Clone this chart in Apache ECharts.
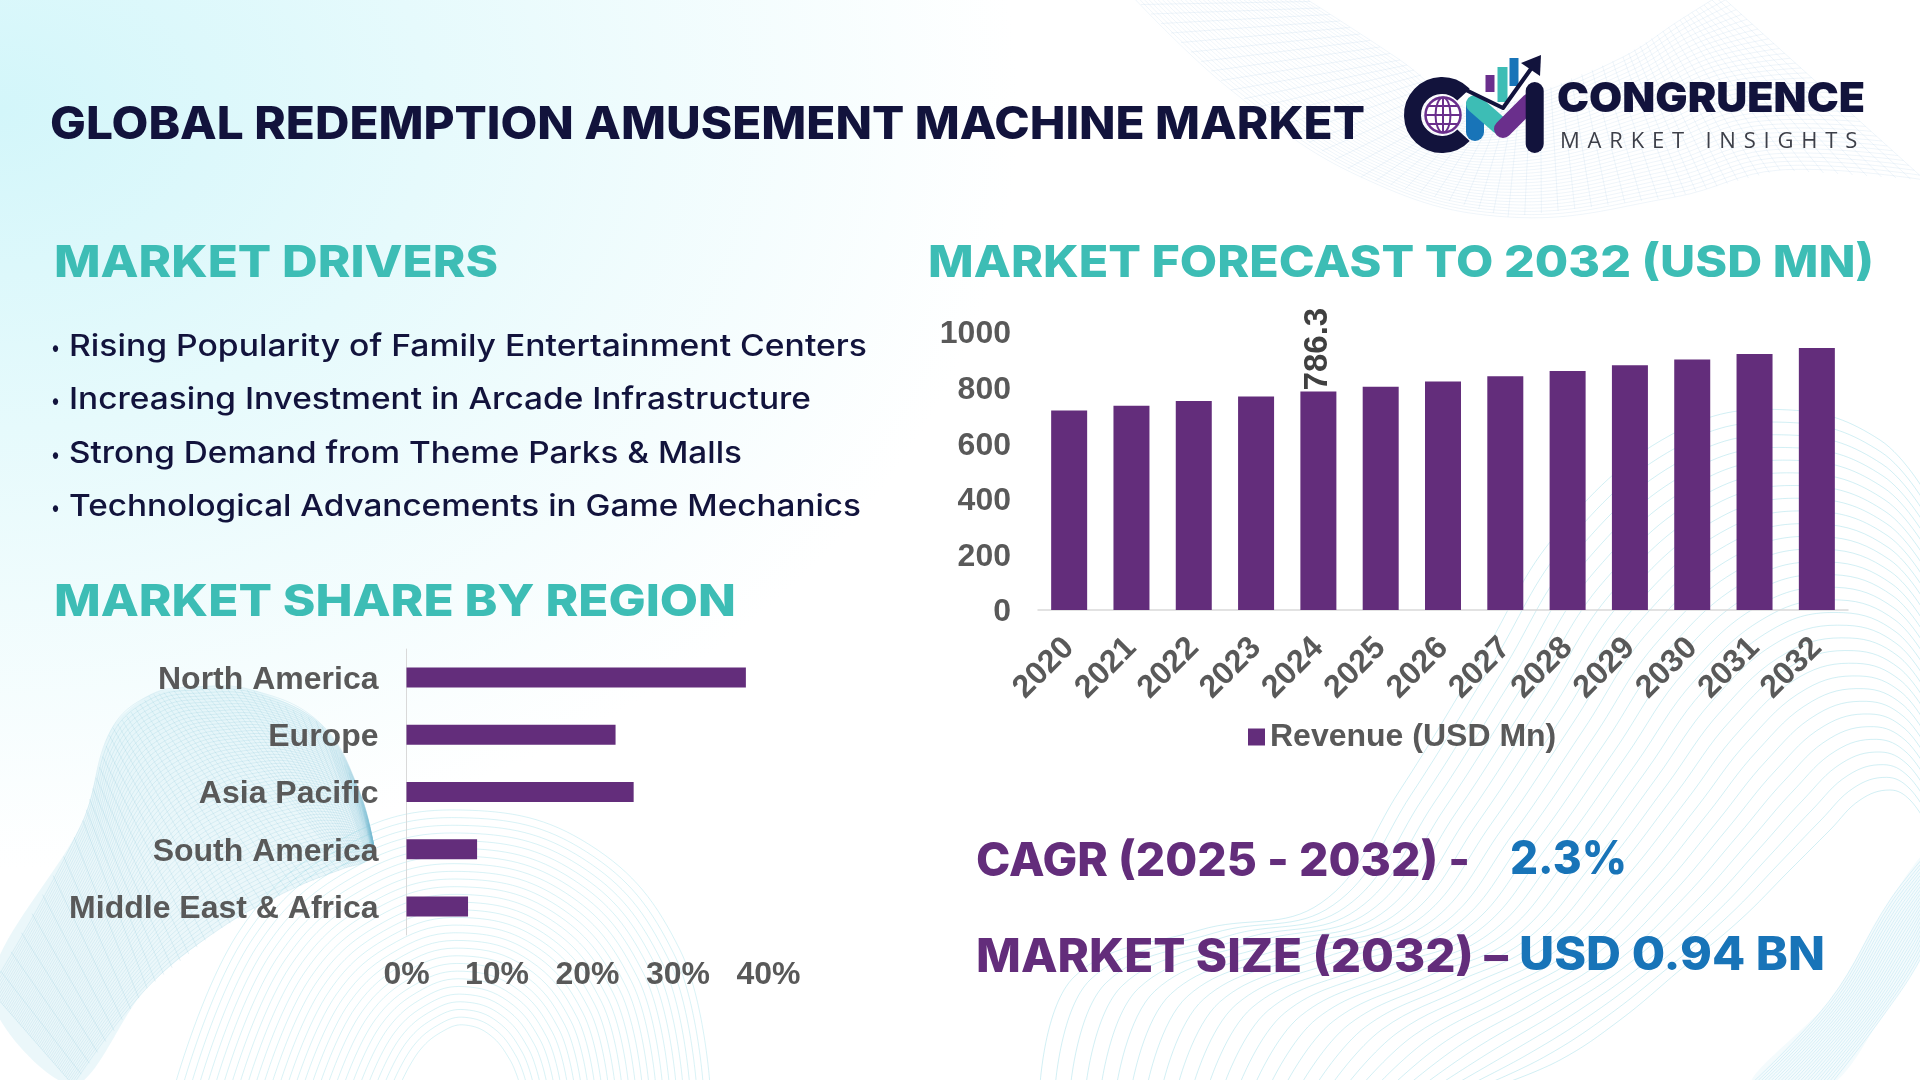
<!DOCTYPE html>
<html>
<head>
    <meta charset="utf-8">
    <title>Global Redemption Amusement Machine Market</title>
    <style>
        html, body { margin: 0; padding: 0; width: 1920px; height: 1080px; overflow: hidden; background: #fff; }
        #bg {
            position: absolute; left: 0; top: 0; width: 1920px; height: 1080px;
            background:
                radial-gradient(ellipse 1020px 760px at 0 110px, #d3f6fa 0%, #e6fafc 42%, rgba(255,255,255,0) 100%),
                #fff;
        }
        #main { position: absolute; left: 0; top: 0; width: 1920px; height: 1080px; }
        #tagline {
            position: absolute; left: 1560px; top: 125px; line-height: 28px;
            font-family: "Open Sans", sans-serif; font-size: 22px; letter-spacing: 7.8px;
            color: #3d3f48; white-space: nowrap;
        }
    </style>
</head>
<body>
<div id="bg"></div>
<div id="main"></div>
<div id="tagline">MARKET INSIGHTS</div>
<script src="https://cdn.jsdelivr.net/npm/echarts@6/dist/echarts.min.js"></script>
<script>
    // chart data
    var years = ['2020', '2021', '2022', '2023', '2024', '2025', '2026', '2027', '2028', '2029', '2030', '2031', '2032'];
    var revenue = [718, 735, 752, 768, 786.3, 803, 822, 841, 860, 880, 901, 921, 942];
    var labelledYear = '2024';
    var regions = ['North America', 'Europe', 'Asia Pacific', 'South America', 'Middle East & Africa'];
    var regionShare = [37.5, 23.1, 25.1, 7.8, 6.8];
    var drivers = [
        'Rising Popularity of Family Entertainment Centers',
        'Increasing Investment in Arcade Infrastructure',
        'Strong Demand from Theme Parks & Malls',
        'Technological Advancements in Game Mechanics'
    ];

    var PURPLE = '#632d7b', TEAL = '#3dbdb5', NAVY = '#12133c', BLUE = '#1874b8', GREY = '#595959';

    var measure = document.createElement('canvas').getContext('2d');
    var graphics = [];

    // text stretched to the width it has in the picture
    function addText(str, x, y, w, size, weight, color, family) {
        var font = weight + ' ' + size + 'px ' + (family || 'Inter');
        measure.font = font;
        graphics.push({
            type: 'text', x: x, y: y + 3, z: 10, silent: true,
            scaleX: w / measure.measureText(str).width,
            style: { text: str, font: font, fill: color, verticalAlign: 'middle' }
        });
    }

    function addLine(pts, color, width, cap) {
        graphics.push({
            type: 'polyline', z: 10, silent: true, shape: { points: pts },
            style: { stroke: color, lineWidth: width, fill: null, lineCap: cap || 'round', lineJoin: 'round' }
        });
    }

    // background line work: curves blended between two edges, with optional cross lines and wash
    function ribbon(a, b, n, color, rungs, wash) {
        function lerp(p, q, t) { return [p[0] + (q[0] - p[0]) * t, p[1] + (q[1] - p[1]) * t]; }
        function push(points) {
            graphics.push({
                type: 'polyline', z: -10, silent: true, shape: { points: points, smooth: 0.4 },
                style: { stroke: color, lineWidth: 1, fill: null }
            });
        }
        if (wash) {
            graphics.push({
                type: 'polygon', z: -11, silent: true,
                shape: { points: a.concat(b.slice().reverse()), smooth: 0.3 },
                style: { fill: wash }
            });
        }
        for (var i = 0; i <= n; i++) {
            push(a.map(function (p, k) { return lerp(p, b[k], i / n); }));
        }
        if (!rungs) return;
        for (var r = 0; r <= rungs; r++) {
            var pos = r / rungs * (a.length - 1), k0 = Math.min(Math.floor(pos), a.length - 2), f = pos - k0;
            var pa = lerp(a[k0], a[k0 + 1], f), pb = lerp(b[k0], b[k0 + 1], f);
            push([pa, lerp(pa, pb, 0.5), pb]);
        }
    }

    ribbon(
        [[1131, -5], [1231, 90], [1361, 177], [1508, 217], [1675, 197], [1780, 170], [1925, 180]],
        [[1300, -5], [1400, 60], [1470, 110], [1520, 100], [1623, 57], [1680, 20], [1720, -5]],
        38, 'rgba(175,205,232,0.2)', 60);
    ribbon(
        [[1040, 1085], [1074, 977], [1200, 930], [1321, 903], [1400, 790], [1480, 660], [1560, 530], [1680, 430], [1790, 410], [1880, 440], [1930, 500]],
        [[1500, 1085], [1560, 1060], [1620, 1020], [1680, 970], [1740, 920], [1790, 870], [1830, 830], [1860, 800], [1890, 790], [1910, 800], [1930, 830]],
        30, 'rgba(130,212,224,0.36)');
    ribbon(
        [[1750, 1085], [1830, 1000], [1890, 900], [1930, 850]],
        [[1830, 1085], [1880, 1020], [1920, 960], [1930, 930]],
        24, 'rgba(150,212,232,0.3)', 0, 'rgba(200,235,245,0.2)');
    ribbon(
        [[175, 1085], [240, 930], [340, 840], [460, 810], [590, 845], [680, 950], [710, 1085]],
        [[400, 1085], [420, 1050], [445, 1030], [465, 1025], [490, 1035], [510, 1060], [520, 1085]],
        28, 'rgba(130,212,224,0.3)');
    ribbon(
        [[-10, 990], [82, 823], [111, 730], [150, 695], [194, 687], [252, 690], [320, 723], [359, 790], [375, 853]],
        [[73, 1085], [145, 990], [218, 930], [290, 890], [345, 868], [360, 864], [368, 860], [372, 856], [375, 853]],
        60, 'rgba(120,190,212,0.18)', 70, 'rgba(190,228,238,0.3)');

    // headings and text
    addText('GLOBAL REDEMPTION AMUSEMENT MACHINE MARKET', 50, 122, 1315, 45, 800, NAVY);
    addText('MARKET DRIVERS', 54, 261, 444, 44, 800, TEAL);
    addText('MARKET SHARE BY REGION', 54, 600, 682, 44, 800, TEAL);
    addText('MARKET FORECAST TO 2032 (USD MN)', 928, 261, 946, 44, 800, TEAL);

    var driverY = [344, 397, 451, 504], driverW = [798, 742, 673, 792];
    drivers.forEach(function (d, i) {
        addText('•', 51, driverY[i] + 1, 9, 22, 500, NAVY);
        addText(d, 69, driverY[i], driverW[i], 30, 500, NAVY);
    });

    addText('CAGR (2025 - 2032) -', 976, 859, 494, 46, 800, PURPLE);
    addText('2.3%', 1510, 857, 117, 46, 800, BLUE);
    addText('MARKET SIZE (2032) –', 976, 955, 532, 46, 800, PURPLE);
    addText('USD 0.94 BN', 1519, 953, 306, 46, 800, BLUE);

    // logo
    graphics.push({
        type: 'arc', z: 10, silent: true,
        shape: { cx: 1442, cy: 115, r: 29.5, startAngle: Math.PI * 0.24, endAngle: Math.PI * 1.76, clockwise: true },
        style: { stroke: NAVY, lineWidth: 17, fill: null }
    });
    graphics.push({
        type: 'circle', z: 10, silent: true, shape: { cx: 1443, cy: 115, r: 17.5 },
        style: { fill: '#fff', stroke: '#6a2f8c', lineWidth: 2.5 }
    });
    graphics.push({
        type: 'ellipse', z: 10, silent: true, shape: { cx: 1443, cy: 115, rx: 7.5, ry: 17.5 },
        style: { fill: null, stroke: '#6a2f8c', lineWidth: 2 }
    });
    addLine([[1426, 115], [1460, 115]], '#6a2f8c', 2, 'butt');
    addLine([[1428, 106], [1458, 106]], '#6a2f8c', 2, 'butt');
    addLine([[1428, 124], [1458, 124]], '#6a2f8c', 2, 'butt');
    addLine([[1443, 98], [1443, 132]], '#6a2f8c', 2, 'butt');

    addLine([[1490, 75], [1490, 92]], '#6a2f8c', 9, 'butt');
    addLine([[1502.5, 67], [1502.5, 102]], TEAL, 10, 'butt');
    addLine([[1514, 58], [1514, 86]], BLUE, 9, 'butt');
    addLine([[1475, 105], [1475, 132]], BLUE, 18);
    addLine([[1475, 104], [1499, 125]], TEAL, 18);
    addLine([[1503, 129], [1530, 102]], '#6a2f8c', 18);
    addLine([[1534.7, 91], [1534.7, 144]], NAVY, 18);
    addLine([[1466, 90], [1503, 108], [1533, 66]], NAVY, 4);
    graphics.push({
        type: 'polygon', z: 10, silent: true, shape: { points: [[1541, 55], [1521, 63], [1540, 76]] },
        style: { fill: NAVY }
    });
    addText('CONGRUENCE', 1557, 97, 308, 41, 900, NAVY);

    var chart = echarts.init(document.getElementById('main'));

    var axisText = { color: GREY, fontFamily: 'Liberation Sans', fontWeight: 'bold', fontSize: 32 };
    // the y labels sit a little under their ticks in the picture
    var lowered = { t: Object.assign({}, axisText, { padding: [5, 0, 0, 0] }) };
    function lowerLabel(v) { return '{t|' + v + '}'; }

    chart.setOption({
        animation: false,
        backgroundColor: 'transparent',
        legend: {
            data: ['Revenue (USD Mn)'], left: 1243, top: 716, itemWidth: 17, itemHeight: 17, itemGap: 9,
            icon: 'rect', textStyle: { color: GREY, fontFamily: 'Liberation Sans', fontWeight: 'bold', fontSize: 32 }
        },
        grid: [
            { left: 1038, top: 332, width: 810, height: 278 },
            { left: 406.5, top: 649, width: 362, height: 286 }
        ],
        xAxis: [
            {
                type: 'category', gridIndex: 0, data: years,
                axisTick: { show: false }, axisLine: { lineStyle: { color: '#d9d9d9', width: 1.5 } },
                axisLabel: Object.assign({}, axisText, { rotate: 45, interval: 0, margin: 33 })
            },
            {
                type: 'value', gridIndex: 1, min: 0, max: 40, interval: 10,
                axisLine: { show: false }, axisTick: { show: false }, splitLine: { show: false },
                axisLabel: Object.assign({}, axisText, { margin: 24, formatter: '{value}%' })
            }
        ],
        yAxis: [
            {
                type: 'value', gridIndex: 0, min: 0, max: 1000, interval: 200,
                axisLine: { show: false }, axisTick: { show: false }, splitLine: { show: false },
                axisLabel: Object.assign({}, axisText, { margin: 27, rich: lowered, formatter: lowerLabel })
            },
            {
                type: 'category', gridIndex: 1, data: regions, inverse: true,
                axisTick: { show: false }, axisLine: { show: true, lineStyle: { color: '#d9d9d9', width: 1 } },
                axisLabel: Object.assign({}, axisText, { margin: 28, interval: 0, rich: lowered, formatter: lowerLabel })
            }
        ],
        series: [
            {
                name: 'Revenue (USD Mn)', type: 'bar', xAxisIndex: 0, yAxisIndex: 0, barWidth: 36,
                itemStyle: { color: PURPLE },
                data: revenue.map(function (v, i) {
                    if (years[i] !== labelledYear) return v;
                    return {
                        value: v,
                        label: {
                            show: true, position: 'top', distance: -9, rotate: 90, align: 'left', verticalAlign: 'middle',
                            offset: [10, 0], color: '#404040', fontFamily: 'Liberation Sans', fontWeight: 'bold', fontSize: 33
                        }
                    };
                })
            },
            {
                name: 'Market share', type: 'bar', xAxisIndex: 1, yAxisIndex: 1, barWidth: 20,
                itemStyle: { color: PURPLE },
                data: regionShare
            }
        ],
        graphic: { elements: graphics }
    });
</script>
</body>
</html>
